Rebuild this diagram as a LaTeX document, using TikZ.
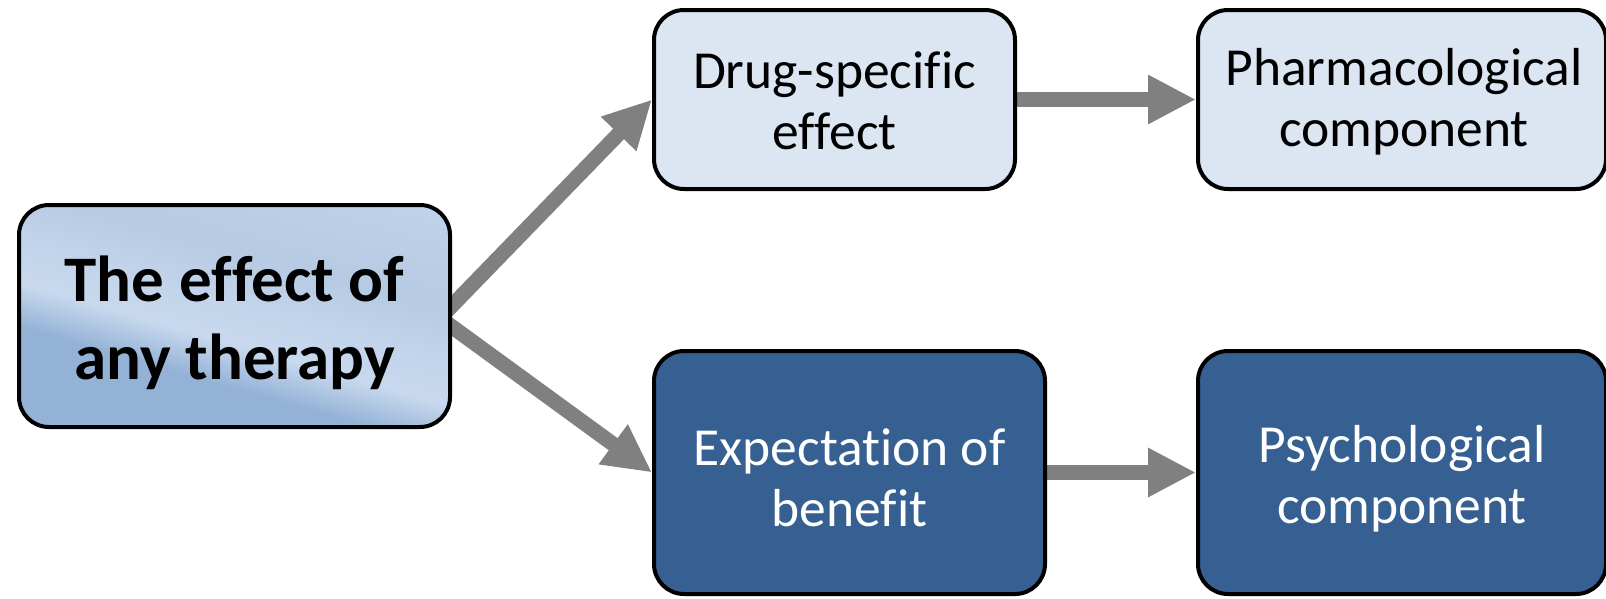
\documentclass[tikz,border=0pt]{standalone}
\usepackage{fontspec}
\setmainfont{Carlito}[Ligatures=NoCommon]
\usetikzlibrary{arrows.meta,backgrounds}

\definecolor{lightbox}{HTML}{DCE6F2}
\definecolor{darkbox}{HTML}{376092}
\definecolor{arrowgray}{HTML}{808080}
\definecolor{shA}{HTML}{94B2D6}
\definecolor{shB}{HTML}{C8D9EE}
\definecolor{shC}{HTML}{B6CAE3}
\definecolor{shD}{HTML}{CCDBEE}
\pgfdeclareverticalshading{mainshade}{100bp}{color(0bp)=(shA); color(37bp)=(shA); color(45bp)=(shB); color(52bp)=(shB!70!shC); color(62bp)=(shC); color(100bp)=(shD)}

\tikzset{
  box/.style={draw=black, line width=4pt, rounded corners=30pt, inner sep=0pt},
  lightnode/.style={box, fill=lightbox},
  darknode/.style={box, fill=darkbox},
  boxtext/.style={inner sep=0pt, align=center, font=\fontsize{53.5}{61}\selectfont},
  conn/.style={draw=arrowgray, line width=15pt,
    -{Triangle[length=48pt, width=46pt]}}
}

\begin{document}
\begin{tikzpicture}[x=1pt, y=-1pt]
  \useasboundingbox (0,0) rectangle (1606,598);
  \begin{scope}
    \clip (0,0) rectangle (1606,598);

    % box outlines
    \node[box, shade, shading=mainshade, shading angle=-16,
          minimum width=431pt, minimum height=222pt] (main) at (234.5,316) {};
    \node[lightnode, minimum width=361pt, minimum height=179pt] (drug) at (834.5,99.5) {};
    \node[lightnode, minimum width=408pt, minimum height=179pt] (pharm) at (1402,99.5) {};
    \node[darknode, minimum width=391pt, minimum height=243pt] (expect) at (849.5,472.5) {};
    \node[darknode, minimum width=408pt, minimum height=243pt] (psych) at (1402,472.5) {};

    % box labels
    \node[boxtext, font=\fontsize{65}{78}\selectfont\bfseries] (maintext)
      at ([yshift=-7pt]main.center) {The effect of\\any therapy};
    \node[boxtext] (drugtext) at ([yshift=-1pt]drug.center) {Drug-specific\\effect};
    \node[boxtext] (pharmtext) at ([xshift=2pt,yshift=-2pt]pharm.center) {Pharmacological\\component};
    \node[boxtext, text=white] (expecttext) at ([yshift=-5pt]expect.center) {Expectation of\\benefit};
    \node[boxtext, text=white] (psychtext) at ([yshift=-6pt]psych.center) {Psychological\\component};

    % connectors, kept behind the boxes
    \coordinate (split) at (440,318);
    \begin{scope}[on background layer]
      \draw[conn] (split) -- (drug.west);
      \draw[conn] (split) -- (expect.west);
      \draw[conn] ([xshift=-6pt]drug.east) -- (pharm.west);
      \draw[conn] ([xshift=-6pt]expect.east) -- (psych.west);
    \end{scope}
  \end{scope}
\end{tikzpicture}
\end{document}
